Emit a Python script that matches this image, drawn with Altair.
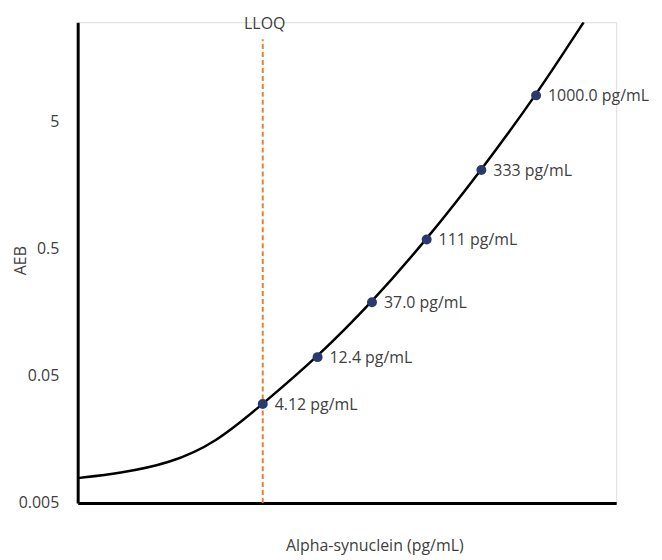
import altair as alt
import pandas as pd

# Standards (concentration pg/mL) and measured AEB
std_conc = [4.12, 12.4, 37.0, 111, 333, 1000]
std_aeb = [0.030, 0.070, 0.189, 0.588, 2.07, 7.98]
std_labels = ["4.12 pg/mL", "12.4 pg/mL", "37.0 pg/mL", "111 pg/mL", "333 pg/mL", "1000.0 pg/mL"]

# Fitted curve
curve_conc = [0.1, 0.232, 0.63, 1.6, 4.12, 12.4, 37.0, 111, 333, 1000, 2600]
curve_aeb = [0.00784, 0.00855, 0.0102, 0.0148, 0.0300, 0.0703, 0.189, 0.588, 2.07, 7.98, 30]

lloq_conc = [4.12]
lloq_bottom = [0.005]
lloq_top = [22]

y_ticks = [0.005, 0.05, 0.5, 5]

FONT = "Open Sans"
FS = 16
TXT = "#404040"

std_df = pd.DataFrame({"conc": std_conc, "aeb": std_aeb, "label": std_labels})
curve_df = pd.DataFrame({"conc": curve_conc, "aeb": curve_aeb})
lloq_df = pd.DataFrame({"conc": lloq_conc, "lo": lloq_bottom, "hi": lloq_top, "label": ["LLOQ"]})

xscale = alt.Scale(type="log", domain=[0.1, 5000], nice=False)
yscale = alt.Scale(type="log", domain=[0.005, 30], nice=False)

xenc = alt.X("conc:Q", scale=xscale,
             axis=alt.Axis(title="Alpha-synuclein (pg/mL)", labels=False, ticks=False, grid=False,
                           domainColor="black", domainWidth=3, titleFont=FONT, titleFontSize=FS,
                           titleFontWeight="normal", titleColor=TXT, titleX=298, titleY=43,
                           titleBaseline="middle", titleAlign="center"))
yenc = alt.Y("aeb:Q", scale=yscale,
             axis=alt.Axis(title="AEB", values=y_ticks, format="~g", ticks=False, grid=False,
                           domainColor="black", domainWidth=3, labelFont=FONT, labelFontSize=FS,
                           labelColor=TXT, labelPadding=19, titleFont=FONT, titleFontSize=FS,
                           titleFontWeight="normal", titleColor=TXT, titleX=-57, titleY=239,
                           titleAngle=270, titleBaseline="middle", titleAlign="center"))

lloq_rule = alt.Chart(lloq_df).mark_rule(color="#ED7D31", strokeWidth=2, strokeDash=[5, 3]).encode(
    x=alt.X("conc:Q", scale=xscale), y=alt.Y("lo:Q", scale=yscale), y2="hi:Q")
lloq_text = alt.Chart(lloq_df).mark_text(font=FONT, fontSize=FS, color=TXT, baseline="middle", dx=2, dy=1).encode(
    x=alt.X("conc:Q", scale=xscale), y=alt.value(1), text="label:N")

curve = alt.Chart(curve_df).mark_line(color="black", strokeWidth=2.5, interpolate="basis", clip=True).encode(
    x=xenc, y=yenc)

pts = alt.Chart(std_df).mark_circle(color="#2B3A6E", size=100, opacity=1).encode(
    x=alt.X("conc:Q", scale=xscale), y=alt.Y("aeb:Q", scale=yscale))
labels = alt.Chart(std_df).mark_text(font=FONT, fontSize=FS, color=TXT, align="left", baseline="middle", dx=12, dy=1).encode(
    x=alt.X("conc:Q", scale=xscale), y=alt.Y("aeb:Q", scale=yscale), text="label:N")

chart = alt.layer(lloq_rule, curve, pts, labels, lloq_text).properties(
    width=541, height=483,
    autosize=alt.AutoSizeParams(type="none"),
    padding={"left": 70, "top": 13, "right": 38, "bottom": 55},
).configure_view(stroke=None).configure(background="white")

chart.save("out.html", embed_options={"renderer": "svg", "actions": False})
